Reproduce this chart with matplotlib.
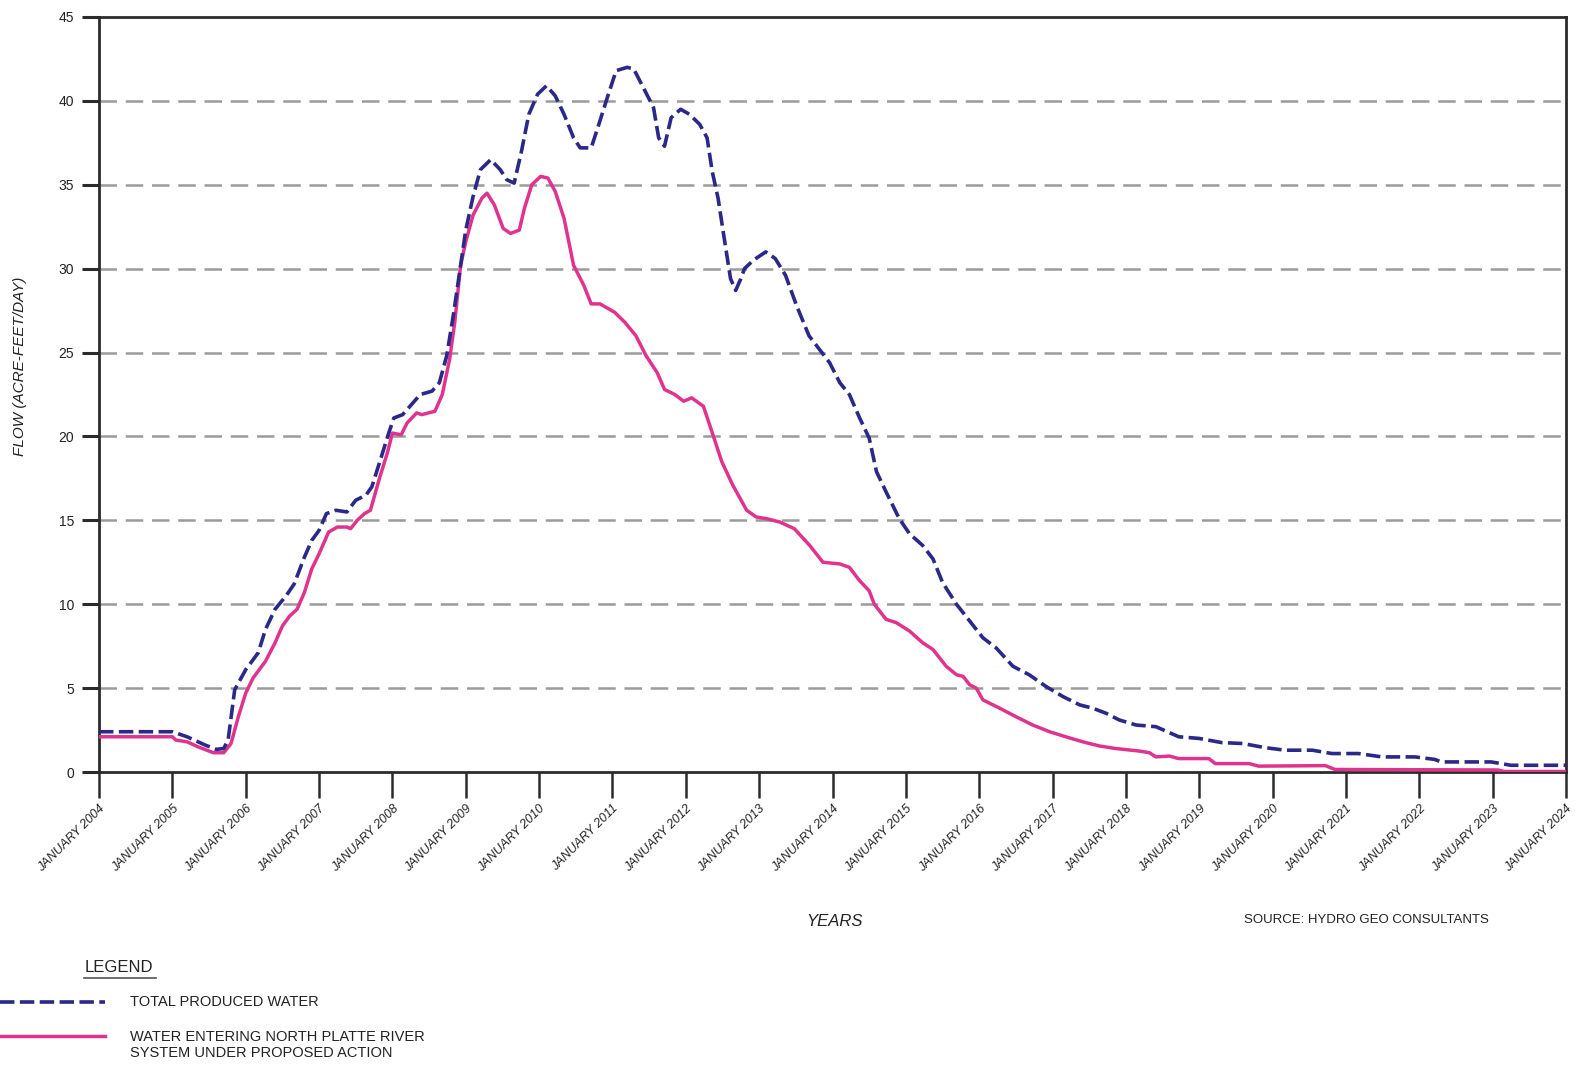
import matplotlib
matplotlib.use("Agg")
import matplotlib.pyplot as plt
from matplotlib.lines import Line2D

plt.rcParams['font.family'] = ['Liberation Sans Narrow', 'Liberation Sans', 'DejaVu Sans']

# ---- data (decimal years, acre-feet/day) ----
total_years = [2004.0, 2004.5, 2005.0, 2005.2, 2005.45, 2005.6, 2005.7, 2005.76, 2005.85, 2006.0,
               2006.17, 2006.27, 2006.4, 2006.55, 2006.66, 2006.8, 2006.9, 2007.0, 2007.1, 2007.23,
               2007.38, 2007.5, 2007.64, 2007.72, 2007.85, 2007.95, 2008.02, 2008.14, 2008.28, 2008.38,
               2008.54, 2008.64, 2008.74, 2008.83, 2008.93, 2009.0, 2009.1, 2009.2, 2009.34, 2009.47,
               2009.56, 2009.66, 2009.76, 2009.86, 2009.98, 2010.1, 2010.22, 2010.34, 2010.47, 2010.56,
               2010.71, 2010.8, 2010.93, 2011.05, 2011.2, 2011.29, 2011.42, 2011.56, 2011.63, 2011.71,
               2011.8, 2011.93, 2012.05, 2012.19, 2012.29, 2012.36, 2012.44, 2012.51, 2012.56, 2012.61,
               2012.68, 2012.75, 2012.8, 2012.92, 2013.09, 2013.22, 2013.36, 2013.51, 2013.68, 2013.82,
               2013.96, 2014.1, 2014.23, 2014.37, 2014.5, 2014.55, 2014.6, 2014.73, 2014.91, 2015.05,
               2015.23, 2015.37, 2015.5, 2015.69, 2015.87, 2016.05, 2016.23, 2016.46, 2016.68, 2016.91,
               2017.14, 2017.37, 2017.55, 2017.73, 2017.91, 2018.14, 2018.41, 2018.72, 2019.0, 2019.31,
               2019.59, 2019.9, 2020.17, 2020.54, 2020.81, 2021.17, 2021.49, 2021.94, 2022.21, 2022.3,
               2022.62, 2022.98, 2023.25, 2023.53, 2024.0]
total_flow = [2.4, 2.4, 2.4, 2.1, 1.6, 1.35, 1.4, 1.9, 4.9, 6.1,
              7.1, 8.5, 9.7, 10.5, 11.2, 12.8, 13.8, 14.4, 15.4, 15.6,
              15.5, 16.2, 16.5, 17.0, 18.8, 20.2, 21.1, 21.3, 22.0, 22.5,
              22.7, 23.2, 24.8, 27.2, 30.2, 32.3, 34.3, 35.9, 36.5, 35.9,
              35.3, 35.1, 37.0, 39.2, 40.4, 40.9, 40.3, 39.2, 37.8, 37.2,
              37.2, 38.4, 40.2, 41.8, 42.0, 41.9, 40.8, 39.6, 37.8, 37.3,
              39.0, 39.5, 39.2, 38.6, 37.8, 35.8, 34.2, 32.2, 30.8, 29.4,
              28.7, 29.4, 30.0, 30.5, 31.0, 30.6, 29.6, 27.8, 26.0, 25.2,
              24.4, 23.2, 22.5, 21.1, 19.9, 18.9, 17.9, 16.7, 15.1, 14.2,
              13.5, 12.7, 11.3, 10.0, 9.0, 8.0, 7.4, 6.3, 5.8, 5.1,
              4.5, 4.0, 3.8, 3.5, 3.1, 2.8, 2.7, 2.1, 2.0, 1.75,
              1.7, 1.45, 1.3, 1.3, 1.1, 1.1, 0.9, 0.9, 0.75, 0.6,
              0.6, 0.6, 0.4, 0.4, 0.4]

river_years = [2004.0, 2005.0, 2005.05, 2005.2, 2005.35, 2005.56, 2005.7, 2005.8, 2005.9, 2006.0,
               2006.1, 2006.27, 2006.4, 2006.5, 2006.6, 2006.7, 2006.8, 2006.9, 2007.0, 2007.13,
               2007.25, 2007.38, 2007.43, 2007.52, 2007.62, 2007.7, 2007.83, 2007.93, 2008.0, 2008.12,
               2008.2, 2008.33, 2008.4, 2008.58, 2008.68, 2008.78, 2008.85, 2008.93, 2009.0, 2009.1,
               2009.22, 2009.29, 2009.39, 2009.51, 2009.61, 2009.73, 2009.8, 2009.9, 2010.02, 2010.12,
               2010.22, 2010.34, 2010.47, 2010.61, 2010.71, 2010.83, 2011.03, 2011.17, 2011.32, 2011.46,
               2011.61, 2011.71, 2011.85, 2011.97, 2012.08, 2012.24, 2012.37, 2012.49, 2012.64, 2012.83,
               2012.96, 2013.1, 2013.28, 2013.48, 2013.69, 2013.87, 2014.1, 2014.23, 2014.37, 2014.5,
               2014.57, 2014.73, 2014.87, 2015.05, 2015.23, 2015.37, 2015.55, 2015.69, 2015.78, 2015.87,
               2015.96, 2016.05, 2016.28, 2016.5, 2016.73, 2016.96, 2017.18, 2017.41, 2017.64, 2017.86,
               2018.18, 2018.32, 2018.41, 2018.59, 2018.72, 2019.13, 2019.22, 2019.68, 2019.81, 2020.72,
               2020.85, 2023.07, 2023.16, 2024.0]
river_flow = [2.1, 2.1, 1.9, 1.8, 1.5, 1.15, 1.15, 1.7, 3.3, 4.7,
              5.6, 6.6, 7.7, 8.7, 9.3, 9.7, 10.7, 12.1, 13.0, 14.3,
              14.6, 14.6, 14.5, 15.0, 15.4, 15.6, 17.6, 19.0, 20.2, 20.1,
              20.8, 21.4, 21.3, 21.5, 22.5, 24.6, 26.8, 30.2, 31.6, 33.2,
              34.2, 34.5, 33.8, 32.4, 32.1, 32.3, 33.6, 35.0, 35.5, 35.4,
              34.6, 33.0, 30.2, 29.0, 27.9, 27.9, 27.4, 26.8, 26.0, 24.8,
              23.8, 22.8, 22.5, 22.1, 22.3, 21.8, 20.1, 18.5, 17.1, 15.6,
              15.2, 15.1, 14.9, 14.5, 13.5, 12.5, 12.4, 12.2, 11.4, 10.8,
              10.0, 9.1, 8.9, 8.4, 7.7, 7.3, 6.3, 5.8, 5.7, 5.2,
              5.0, 4.3, 3.8, 3.3, 2.8, 2.4, 2.1, 1.8, 1.55, 1.4,
              1.25, 1.15, 0.9, 0.95, 0.8, 0.8, 0.5, 0.5, 0.35, 0.38,
              0.15, 0.12, 0.03, 0.03]

tick_years = list(range(2004, 2025))
tick_labels = [f"JANUARY {y}" for y in tick_years]
y_ticks = [0, 5, 10, 15, 20, 25, 30, 35, 40, 45]

series_names = ["TOTAL PRODUCED WATER",
                "WATER ENTERING NORTH PLATTE RIVER\nSYSTEM UNDER PROPOSED ACTION"]

BLUE = '#2a2888'
PINK = '#e0338e'
GRID = '#9b9b9b'
AX = '#2b2b2b'
TXT = '#222222'

fig = plt.figure(figsize=(15.79, 10.74), dpi=100)
ax = fig.add_axes([99/1579, 1-772/1074, (1566-99)/1579, (772-17)/1074])

ax.set_xlim(2004, 2024)
ax.set_ylim(0, 45)

for v in y_ticks[1:-1]:
    ax.axhline(v, color=GRID, lw=1.8, dashes=(7, 3.5), zorder=1)

ax.plot(river_years, river_flow, color=PINK, lw=2.5, solid_joinstyle='round', zorder=3)
ax.plot(total_years, total_flow, color=BLUE, lw=2.6, dashes=(4.0, 1.5), zorder=4)

for s in ax.spines.values():
    s.set_color(AX)
    s.set_linewidth(2.0)

ax.set_xticks(tick_years)
ax.set_xticklabels(tick_labels, rotation=45, ha='right', rotation_mode='anchor',
                   fontsize=9, style='italic', color=TXT)
ax.set_yticks(y_ticks)
ax.set_yticklabels([str(v) for v in y_ticks], fontsize=10, color=TXT)
ax.tick_params(axis='x', direction='out', length=19, width=1.8, color=AX, pad=3)
ax.tick_params(axis='y', direction='out', length=12, width=2.2, color=AX, pad=6)

fig.text(20/1579, 1-366/1074, "FLOW (ACRE-FEET/DAY)", rotation=90, ha='center', va='center',
         fontsize=11, style='italic', color=TXT)
fig.text(835/1579, 1-922/1074, "YEARS", ha='center', va='center', fontsize=12,
         style='italic', color=TXT)
fig.text(1366/1579, 1-920/1074, "SOURCE: HYDRO GEO CONSULTANTS", ha='center', va='center',
         fontsize=9.5, color=TXT)

# legend
fig.text(119/1579, 1-967/1074, "LEGEND", ha='center', va='center', fontsize=12, color=TXT)
fig.add_artist(Line2D([84/1579, 156/1579], [1-978/1074, 1-978/1074], color='#555555', lw=1.2))
fig.add_artist(Line2D([0/1579, 105/1579], [1-1002/1074, 1-1002/1074], color=BLUE, lw=2.6,
                      dashes=(4.0, 1.5)))
fig.text(130/1579, 1-1002/1074, series_names[0], ha='left', va='center', fontsize=10.5, color=TXT)
fig.add_artist(Line2D([0/1579, 105/1579], [1-1036/1074, 1-1036/1074], color=PINK, lw=2.5))
fig.text(130/1579, 1-1045/1074, series_names[1], ha='left', va='center', fontsize=10.5,
         color=TXT, linespacing=1.15)

fig.savefig("out.png", dpi=100)
